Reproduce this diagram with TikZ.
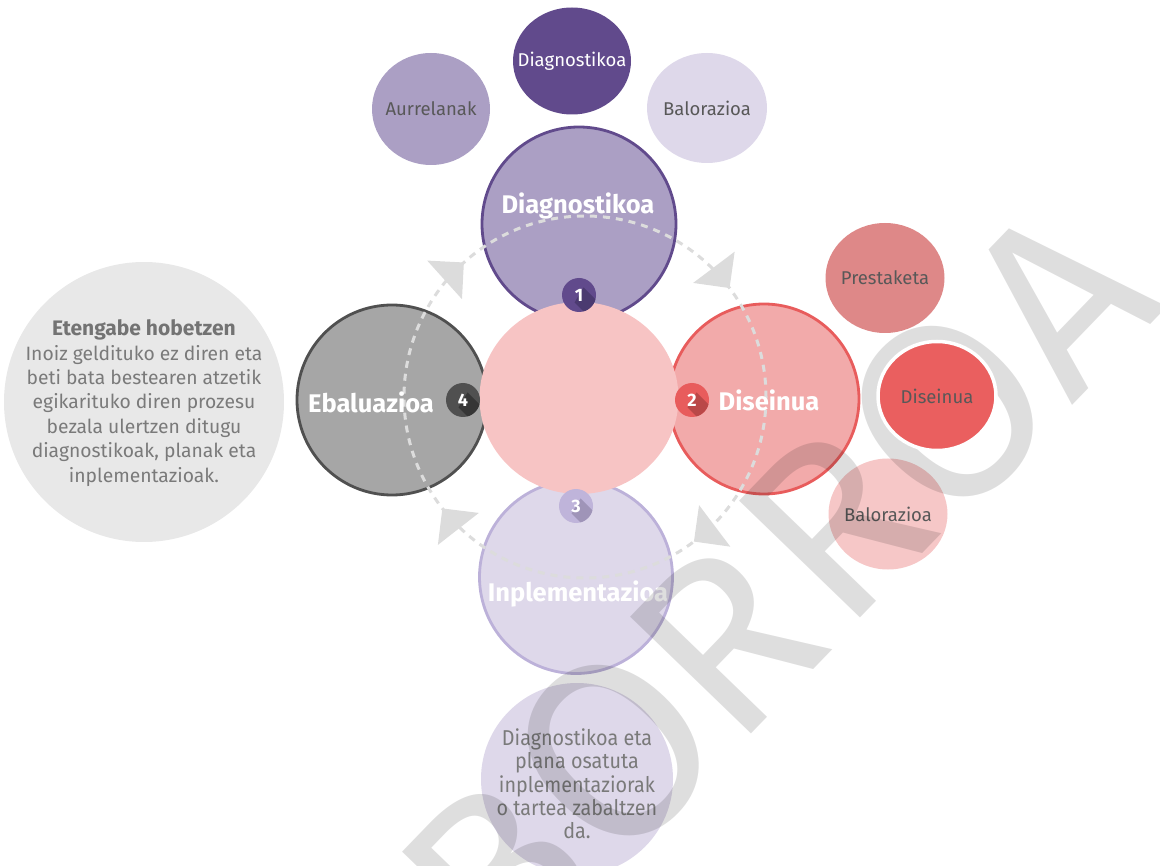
\documentclass[tikz,border=0pt]{standalone}
\usepackage{fontspec}
\setmainfont{Fira Sans}
\newfontfamily\condfont[FakeStretch=0.92]{Fira Sans}
\newfontfamily\wmfont{Fira Sans}
\usetikzlibrary{shapes.geometric,calc}
\definecolor{pdark}{HTML}{614A8C}
\definecolor{pdarksh}{HTML}{4B3A70}
\definecolor{pmid}{HTML}{AB9FC4}
\definecolor{plight}{HTML}{DED8EA}
\definecolor{pbadge}{HTML}{BFB4DA}
\definecolor{pbsh}{HTML}{9F94B8}
\definecolor{pstroke}{HTML}{BCB1D9}
\definecolor{gfill}{HTML}{A6A6A6}
\definecolor{gdark}{HTML}{505050}
\definecolor{gsh}{HTML}{363636}
\definecolor{rstroke}{HTML}{E85C5C}
\definecolor{rsh}{HTML}{BA4848}
\definecolor{rbig}{HTML}{F2AAAA}
\definecolor{rcenter}{HTML}{F7C4C4}
\definecolor{rprest}{HTML}{DE8888}
\definecolor{rdis}{HTML}{EA5F5F}
\definecolor{rbal}{HTML}{F6C7C7}
\definecolor{lgray}{HTML}{E8E8E8}
\definecolor{dashgray}{HTML}{DCDCDC}
\definecolor{txtdark}{HTML}{585858}
\definecolor{txtgray}{HTML}{7A7A7A}
\begin{document}
\begin{tikzpicture}[x=1pt,y=-1pt,
  bigcirc/.style={circle, minimum size=192pt, inner sep=0pt, line width=2.8pt},
  sat/.style={ellipse, inner sep=0pt},
  satlabel/.style={text=txtdark, inner sep=0pt, font=\fontsize{18.5}{22}\selectfont},
  biglabel/.style={text=white, inner sep=0pt, font=\bfseries\fontsize{25.5}{30}\selectfont},
  badge/.style={circle, minimum size=34pt, inner sep=0pt, text=white, font=\bfseries\fontsize{18}{20}\selectfont},
  dashline/.style={draw=dashgray, line width=3pt, dash pattern=on 7pt off 6pt},
  arrowfill/.style={fill=dashgray},
  para/.style={align=center, text=txtgray, inner sep=0pt, font=\fontsize{19.3}{24.4}\selectfont},
  wmark/.style={rotate=46, text=black, text opacity=0.13, inner sep=0pt, font=\wmfont\fontsize{244}{244}\selectfont},
  wmarkO/.style={wmark, font=\wmfont\fontsize{254}{254}\selectfont}
]
\useasboundingbox (0,0) rectangle (1160,866);

% left text circle
\node[circle, fill=lgray, minimum size=280pt, inner sep=0pt] (leftc) at (144,402) {};
\node[para] (lefttxt) at (144,403) {{\bfseries\fontsize{21}{24.4}\selectfont\color{black!55}Etengabe hobetzen}\\Inoiz geldituko ez diren eta\\beti bata bestearen atzetik\\egikarituko diren prozesu\\bezala ulertzen ditugu\\diagnostikoak, planak eta\\inplementazioak.};

% top satellites
\node[sat, fill=pmid, minimum width=118pt, minimum height=112pt, label={[satlabel]center:Aurrelanak}] (aurre) at (431,109) {};
\node[sat, fill=pdark, minimum width=118pt, minimum height=107pt, label={[satlabel, text=white]center:Diagnostikoa}] (sdiag) at (572,61) {};
\node[sat, fill=plight, minimum width=120pt, minimum height=110pt, label={[satlabel]center:Balorazioa}] (sbal1) at (707,108) {};

% right satellites
\node[sat, fill=rprest, minimum width=119pt, minimum height=110pt, label={[satlabel]center:Prestaketa}] (prest) at (885,278) {};
\node[sat, fill=rbal, minimum width=119pt, minimum height=111pt, label={[satlabel]center:Balorazioa}] (sbal2) at (888,514) {};

% bottom text circle
\node[circle, fill=plight, minimum size=192pt, inner sep=0pt] (botc) at (577,779) {};
\node[para, font=\condfont\fontsize{21.5}{23.3}\selectfont] (bottxt) at (577,784) {Diagnostikoa eta\\plana osatuta\\inplementaziorak\\o tartea zabaltzen\\da.};

% big circles
\node[bigcirc, fill=pmid, draw=pdark, minimum size=194pt] (diag) at (579,224) {};
\node[bigcirc, fill=gfill, draw=gdark, minimum size=190pt] (ebal) at (392,400) {};
\node[bigcirc, fill=rbig, draw=rstroke, minimum size=190pt] (dis) at (764,399) {};
\node[bigcirc, fill=plight, draw=pstroke, minimum size=193pt] (inpl) at (576,577) {};

% centre
\node[ellipse, fill=rcenter, minimum width=199pt, minimum height=192pt, inner sep=0pt] (centre) at (579,398) {};

% dashed cycle
\coordinate (cyc) at (585,397);
\draw[dashline] (cyc) circle[radius=181];
\foreach \t in {37,-53,-142,132} {
  \pgfmathsetmacro\tx{585+181*cos(\t)}
  \pgfmathsetmacro\ty{397-181*sin(\t)}
  \pgfmathsetmacro\dx{sin(\t)}
  \pgfmathsetmacro\dy{cos(\t)}
  \fill[arrowfill] (\tx,\ty) -- ({\tx-26*(\dx)-26*(\dy)},{\ty-26*(\dy)+26*(\dx)}) -- ({\tx-26*(\dx)+26*(\dy)},{\ty-26*(\dy)-26*(\dx)}) -- cycle;
}

% big labels
\node[biglabel] (ldiag) at (578,206) {Diagnostikoa};
\node[biglabel] (lebal) at (371,402) {Ebaluazioa};
\node[biglabel] (ldis) at (769,400) {Diseinua};
\node[biglabel] (linpl) at (578,594) {Inplementazioa};

% badges
\foreach \n/\bx/\by/\bc/\sc in {1/579/295/pdark/pdarksh, 2/692/400/rstroke/rsh, 3/576/506/pbadge/pbsh, 4/463/400/gdark/gsh} {
  \node[badge, fill=\bc, path picture={
      \fill[\sc] ($(path picture bounding box.center)+(4.5,-7.5)$) -- ++(30,30) -- ++(-9,15) -- ++(-30,-30) -- cycle;
    }] (badge\n) at (\bx,\by) {\n};
}

% watermark
\node[wmark] (wmB) at (498,875) {B};
\node[wmarkO] (wmO) at (614,750) {O};
\node[wmark] (wmR) at (725,640) {R};
\node[wmark] (wmRR) at (834,524) {R};
\node[wmarkO] (wmOO) at (948,411) {O};
\node[wmark] (wmA) at (1060,298) {A};

% small Diseinua circle, sitting inside the watermark O
\node[sat, fill=rdis, draw=white, line width=3.5pt, minimum width=118pt, minimum height=109pt, label={[satlabel]center:Diseinua}] (sdis) at (937,396) {};
\end{tikzpicture}
\end{document}
